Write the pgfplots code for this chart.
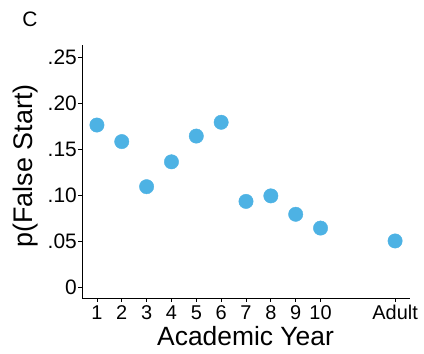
\documentclass[border=0pt]{standalone}
\usepackage{pgfplots}
\pgfplotsset{compat=1.18}
\usepackage{fontspec}
\setmainfont{Liberation Sans}
\definecolor{dotblue}{RGB}{77,178,228}

\begin{document}
\begin{tikzpicture}
\begin{axis}[
  scale only axis,
  width=328bp, height=253bp,
  at={(82bp,56bp)}, anchor=south west,
  xmin=0.4, xmax=13.6,
  ymin=-0.012, ymax=0.263,
  axis x line*=bottom, axis y line*=left,
  axis line style={line width=0.9pt, -},
  xtick={1,2,3,4,5,6,7,8,9,10,13},
  xticklabels={1,2,3,4,5,6,7,8,9,10,Adult},
  ytick={0,0.05,0.10,0.15,0.20,0.25},
  yticklabels={0,.05,.10,.15,.20,.25},
  tick style={line width=0.8pt, black},
  tick align=outside,
  major tick length=4bp,
  xticklabel style={font=\fontsize{20}{20}\selectfont, anchor=base, inner sep=0pt, yshift=-17bp},
  yticklabel style={font=\fontsize{21}{21}\selectfont, anchor=east, inner sep=0pt, xshift=-1bp},
  /pgf/number format/assume math mode=true,
  clip=false,
]
\addplot[only marks, mark=*, mark size=7.2bp, dotblue, mark options={draw=dotblue, fill=dotblue}]
  coordinates {
    (1,0.176) (2,0.158) (3,0.109) (4,0.136) (5,0.164) (6,0.179)
    (7,0.093) (8,0.099) (9,0.079) (10,0.064) (13,0.050)
  };
\end{axis}
\node[anchor=base, font=\fontsize{26.5}{26.5}\selectfont] at (245.5bp,9bp) {Academic Year};
\node[anchor=base, rotate=90, font=\fontsize{27}{27}\selectfont] at (32bp,188bp) {p(False Start)};
\node[anchor=base, font=\fontsize{21}{21}\selectfont] at (30bp,327bp) {C};
\pgfresetboundingbox
\path (0,0) rectangle (424bp,354bp);
\end{tikzpicture}
\end{document}
